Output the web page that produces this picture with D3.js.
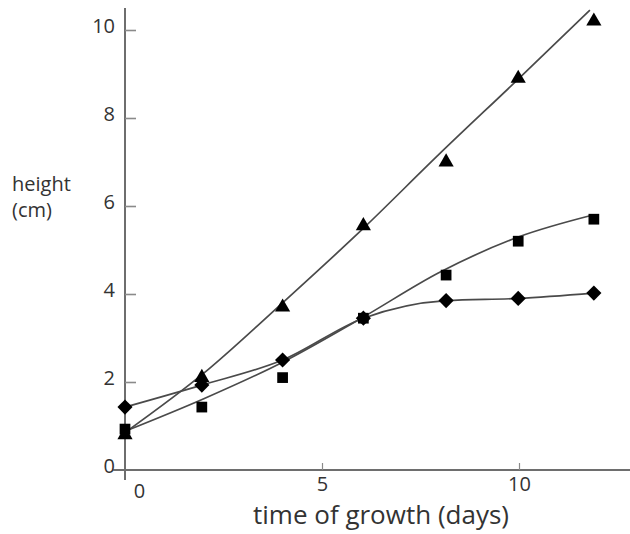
<!DOCTYPE html>
<html>
<head>
<meta charset="utf-8">
<script src="https://cdn.jsdelivr.net/npm/d3@7"></script>
<style>
  html, body { margin: 0; padding: 0; background: #fff; }
  svg { display: block; }
  text { font-family: "Open Sans", "DejaVu Sans", sans-serif; fill: #333; }
</style>
</head>
<body>
<svg id="chart" width="630" height="534"></svg>
<script>
// ---- data ----
const days = [0, 1.95, 4, 6.05, 8.15, 9.98, 11.9];
const triangleHeights = [0.8, 2.1, 3.7, 5.55, 7.0, 8.9, 10.2];
const squareHeights = [0.93, 1.43, 2.1, 3.45, 4.43, 5.2, 5.7];
const diamondHeights = [1.43, 1.93, 2.5, 3.45, 3.85, 3.9, 4.02];

// fitted trend lines drawn through the points
const triangleFitDays = [0, 2, 4, 6, 8, 10, 11.8];
const triangleFit = [0.85, 2.2, 3.8, 5.45, 7.2, 8.9, 10.45];
const squareFitDays = [0, 2, 4, 6, 8, 10, 11.9];
const squareFit = [0.88, 1.62, 2.45, 3.45, 4.5, 5.3, 5.8];

const xTicks = [0, 5, 10];
const yTicks = [0, 2, 4, 6, 8, 10];
const xTitle = "time of growth (days)";
const yTitleLines = ["height", "(cm)"];

// ---- scales ----
const svg = d3.select("#chart");
const x = d3.scaleLinear().domain([0, 10]).range([125, 519]);
const y = d3.scaleLinear().domain([0, 10]).range([470, 30]);

const axisColor = "#6e6e6e";

// axis lines
svg.append("line")
  .attr("x1", x(0)).attr("x2", x(0))
  .attr("y1", y(10.5)).attr("y2", y(-0.23))
  .attr("stroke", axisColor).attr("stroke-width", 2);
svg.append("line")
  .attr("x1", x(-0.3)).attr("x2", x(12.9))
  .attr("y1", y(0)).attr("y2", y(0))
  .attr("stroke", axisColor).attr("stroke-width", 2);

// y axis ticks + labels
const yAxis = svg.append("g")
  .attr("transform", `translate(${x(0)},0)`)
  .call(d3.axisLeft(y).tickValues(yTicks).tickSizeInner(-11).tickSizeOuter(0).tickPadding(10).tickFormat(d3.format("d")));
yAxis.select(".domain").remove();
yAxis.selectAll(".tick line").attr("stroke", "#8a8a8a").attr("stroke-width", 1.6)
  .filter(d => d === 0).remove();
yAxis.selectAll(".tick text")
  .attr("font-size", 20).attr("font-family", "Open Sans").attr("fill", "#333")
  .attr("dy", "0.1em");

// x axis ticks + labels
const xAxis = svg.append("g")
  .attr("transform", `translate(0,${y(0)})`)
  .call(d3.axisBottom(x).tickValues(xTicks).tickSizeInner(-7).tickSizeOuter(0).tickPadding(7).tickFormat(d3.format("d")));
xAxis.select(".domain").remove();
xAxis.selectAll(".tick line").attr("stroke", "#8a8a8a").attr("stroke-width", 1.2)
  .filter(d => d === 0).remove();
xAxis.selectAll(".tick text")
  .attr("font-size", 20).attr("font-family", "Open Sans").attr("fill", "#333");
xAxis.selectAll(".tick text").filter(d => d === 0)
  .attr("dx", 14).attr("dy", "1.05em");

// axis titles
svg.append("text")
  .attr("x", 381).attr("y", 524)
  .attr("text-anchor", "middle")
  .attr("font-size", 26)
  .text(xTitle);
svg.selectAll(".ytitle").data(yTitleLines).join("text")
  .attr("class", "ytitle")
  .attr("x", 12).attr("y", (d, i) => 191 + i * 26)
  .attr("font-size", 20)
  .text(d => d);

// ---- lines ----
const lineGen = d3.line().x(d => x(d[0])).y(d => y(d[1])).curve(d3.curveMonotoneX);
const lineStyle = sel => sel.attr("fill", "none").attr("stroke", "#4a4a4a").attr("stroke-width", 1.7);

svg.append("path").datum(triangleFitDays.map((d, i) => [d, triangleFit[i]]))
  .attr("d", lineGen).call(lineStyle);
svg.append("path").datum(squareFitDays.map((d, i) => [d, squareFit[i]]))
  .attr("d", lineGen).call(lineStyle);
svg.append("path").datum(days.map((d, i) => [d, diamondHeights[i]]))
  .attr("d", lineGen).call(lineStyle);

// ---- markers ----
function drawMarkers(values, symbolType, size, rotate) {
  svg.append("g").selectAll("path")
    .data(days.map((d, i) => [d, values[i]]))
    .join("path")
    .attr("d", d3.symbol().type(symbolType).size(size))
    .attr("transform", d => `translate(${x(d[0])},${y(d[1])})${rotate ? " rotate(45)" : ""}`)
    .attr("fill", "#000");
}
drawMarkers(squareHeights, d3.symbolSquare, 115, false);
drawMarkers(triangleHeights, d3.symbolTriangle, 100, false);
drawMarkers(diamondHeights, d3.symbolSquare, 115, true);
</script>
</body>
</html>
